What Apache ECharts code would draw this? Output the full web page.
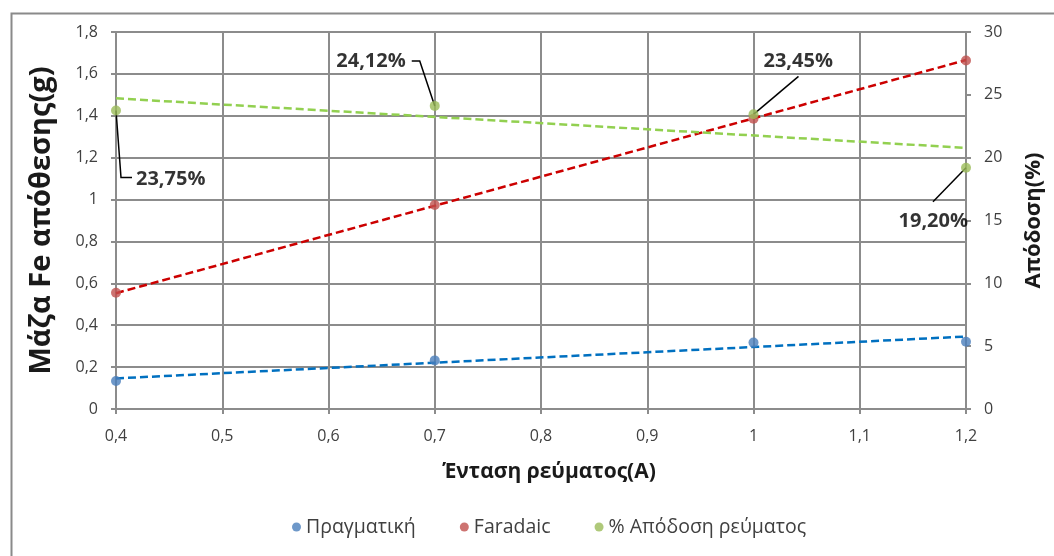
<!DOCTYPE html>
<html>
<head>
<meta charset="utf-8">
<script src="https://cdn.jsdelivr.net/npm/echarts@6/dist/echarts.min.js"></script>
<style>
  html, body { margin: 0; padding: 0; background: #fff; }
  #chart { width: 1054px; height: 556px; }
</style>
</head>
<body>
<div id="chart"></div>
<script>
// Current intensity (A)
const currents = [0.4, 0.7, 1.0, 1.2];
// Deposited Fe mass (g)
const massActual = [0.134, 0.232, 0.317, 0.321];
const massFaradaic = [0.555, 0.974, 1.386, 1.664];
// Current efficiency (%)
const efficiency = [23.75, 24.12, 23.45, 19.20];

// Linear trendline end values at x = 0.4 and x = 1.2
const trendX = [0.4, 1.2];
const trendActual = [0.146, 0.346];
const trendFaradaic = [0.553, 1.666];
const trendEfficiency = [24.72, 20.78];

const seriesNames = ['Πραγματική', 'Faradaic', '% Απόδοση ρεύματος'];

const FONT = '"Open Sans", "Noto Sans", sans-serif';
const GRID_COLOR = '#8c8c8c';
const TEXT_COLOR = '#404040';

const pairs = (xs, ys) => xs.map((x, i) => [x, ys[i]]);
const comma = (v, d) => String(+v.toFixed(d)).replace('.', ',');

// Offsets of each efficiency label and its leader line, relative to the point
const labelPlacement = [
  { dx: 20, dy: 69, align: 'left', line: [[0, 0], [5, 67], [16, 67]] },
  { dx: -29, dy: -45, align: 'right', line: [[0, 0], [-15, -45], [-23, -45]] },
  { dx: 10, dy: -53, align: 'left', line: [[0, 0], [45, -38]] },
  { dx: 2, dy: 54, align: 'right', line: [[0, 0], [-33, 34]] }
];

const chart = echarts.init(document.getElementById('chart'), null, { renderer: 'canvas' });

const trendLine = (name, data, color, yAxisIndex) => ({
  name: name,
  type: 'line',
  yAxisIndex: yAxisIndex,
  data: data,
  symbol: 'none',
  silent: true,
  z: 3,
  lineStyle: { color: color, width: 2.5, type: [8, 4] }
});

const axisCommon = {
  type: 'value',
  nameLocation: 'middle',
  axisLine: { show: true, onZero: false, lineStyle: { color: GRID_COLOR, width: 2 } },
  axisTick: { show: true, length: 5, lineStyle: { color: GRID_COLOR, width: 2 } }
};

chart.setOption({
  animation: false,
  textStyle: { fontFamily: FONT },
  graphic: [{
    type: 'rect',
    left: 9, top: 11,
    shape: { width: 1100, height: 600 },
    style: { fill: 'none', stroke: '#8a8a8a', lineWidth: 2 },
    silent: true
  }],
  grid: { left: 116, right: 88, top: 32, bottom: 147 },
  legend: {
    data: seriesNames,
    bottom: 14,
    left: 287,
    icon: 'circle',
    itemWidth: 9,
    itemHeight: 9,
    itemGap: 44,
    textStyle: { fontSize: 19.5, color: '#404040', fontFamily: FONT }
  },
  xAxis: Object.assign({}, axisCommon, {
    min: 0.4, max: 1.2, interval: 0.1,
    name: 'Ένταση ρεύματος(A)',
    nameGap: 53,
    nameTextStyle: { fontSize: 21, fontWeight: 'bold', color: '#1a1a1a', fontFamily: FONT, padding: [0, 0, 0, 16] },
    splitLine: { show: true, lineStyle: { color: GRID_COLOR, width: 2 } },
    axisLabel: { fontSize: 16, color: TEXT_COLOR, margin: 19, formatter: v => comma(v, 1) }
  }),
  yAxis: [Object.assign({}, axisCommon, {
    min: 0, max: 1.8, interval: 0.2,
    name: 'Μάζα Fe απόθεσης(g)',
    nameGap: 60,
    nameTextStyle: { fontSize: 29, fontWeight: 'bold', color: '#1a1a1a', fontFamily: FONT },
    splitLine: { show: true, lineStyle: { color: GRID_COLOR, width: 2 } },
    axisLabel: { fontSize: 16, color: TEXT_COLOR, margin: 18, formatter: v => comma(v, 1) }
  }), Object.assign({}, axisCommon, {
    min: 0, max: 30, interval: 5,
    name: 'Απόδοση(%)',
    nameGap: 57,
    nameRotate: 90,
    nameTextStyle: { fontSize: 22, fontWeight: 'bold', color: '#1a1a1a', fontFamily: FONT },
    splitLine: { show: false },
    axisLabel: { fontSize: 16, color: TEXT_COLOR, margin: 18 }
  })],
  series: [
    trendLine('trend-actual', pairs(trendX, trendActual), '#0070C0', 0),
    trendLine('trend-faradaic', pairs(trendX, trendFaradaic), '#CC0000', 0),
    trendLine('trend-efficiency', pairs(trendX, trendEfficiency), '#92D050', 1),
    {
      // leader lines from each efficiency point to its label
      name: 'leaders',
      type: 'custom',
      yAxisIndex: 1,
      silent: true,
      z: 3,
      data: pairs(currents, efficiency),
      encode: { x: 0, y: 1 },
      renderItem: function (params, api) {
        const pt = api.coord([api.value(0), api.value(1)]);
        const off = labelPlacement[params.dataIndex].line;
        return {
          type: 'polyline',
          shape: { points: off.map(q => [pt[0] + q[0], pt[1] + q[1]]) },
          style: { stroke: '#000', lineWidth: 1.5, fill: null }
        };
      }
    },
    {
      name: seriesNames[0],
      type: 'scatter',
      yAxisIndex: 0,
      data: pairs(currents, massActual),
      symbolSize: 10,
      itemStyle: { color: '#4A7EBB' },
      z: 4
    },
    {
      name: seriesNames[1],
      type: 'scatter',
      yAxisIndex: 0,
      data: pairs(currents, massFaradaic),
      symbolSize: 10,
      itemStyle: { color: '#C0504D' },
      z: 4
    },
    {
      name: seriesNames[2],
      type: 'scatter',
      yAxisIndex: 1,
      data: pairs(currents, efficiency),
      symbolSize: 10,
      itemStyle: { color: '#9BBB59' },
      z: 4,
      label: {
        show: true,
        fontSize: 20,
        fontWeight: 'bold',
        color: '#000',
        fontFamily: FONT,
        formatter: p => p.value[1].toFixed(2).replace('.', ',') + '%'
      },
      labelLayout: function (params) {
        const r = params.rect;
        const cx = r.x + r.width / 2;
        const cy = r.y + r.height / 2;
        const p = labelPlacement[params.dataIndex];
        return {
          x: cx + p.dx,
          y: cy + p.dy,
          align: p.align,
          verticalAlign: 'middle'
        };
      }
    }
  ]
});
</script>
</body>
</html>
